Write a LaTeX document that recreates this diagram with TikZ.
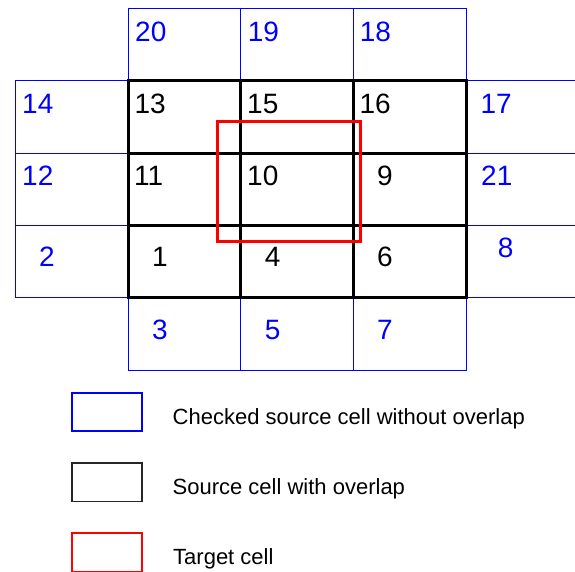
\documentclass[tikz,border=0pt]{standalone}
\usepackage{fontspec}
\setmainfont{Liberation Sans}
\begin{document}
\begin{tikzpicture}[x=1pt,y=-1pt,
  srccell/.style={draw=blue, line width=1pt},
  ovlcell/.style={draw=black, line width=3pt},
  tgtcell/.style={draw=red, line width=3pt},
  blnum/.style={text=blue, font=\fontsize{28}{30}\selectfont, inner sep=0pt},
  bknum/.style={text=black, font=\fontsize{28}{30}\selectfont, inner sep=0pt},
  legtext/.style={font=\fontsize{22}{24}\selectfont, inner sep=0pt, anchor=base west},
]
\useasboundingbox (0,0) rectangle (575,571);
\clip (0,0) rectangle (575,571);
% blue (checked, no overlap) cells
\draw[srccell] (128,8.5) rectangle (240.7,80.7);
\draw[srccell] (240.7,8.5) rectangle (353.3,80.7);
\draw[srccell] (353.3,8.5) rectangle (466,80.7);
\draw[srccell] (15,80.7) rectangle (128,153.3);
\draw[srccell] (15,153.3) rectangle (128,225.8);
\draw[srccell] (15,225.8) rectangle (128,297.5);
\draw[srccell] (466,80.7) rectangle (578.7,153.3);
\draw[srccell] (466,153.3) rectangle (578.7,225.8);
\draw[srccell] (466,225.8) rectangle (578.7,297.5);
\draw[srccell] (128,297.5) rectangle (240.7,370.5);
\draw[srccell] (240.7,297.5) rectangle (353.3,370.5);
\draw[srccell] (353.3,297.5) rectangle (466,370.5);
% black (overlap) cells
\foreach \xa/\xb in {128/240.7, 240.7/353.3, 353.3/466}{
  \foreach \ya/\yb in {80.7/153.3, 153.3/225.8, 225.8/297.5}{
    \draw[ovlcell] (\xa,\ya) rectangle (\xb,\yb);
  }
}
% target cell
\draw[tgtcell] (217.3,121.7) rectangle (360.7,241);
% labels
\node[blnum, anchor=west] (n20) at (135,31.7) {20};
\node[blnum, anchor=west] (n19) at (247.7,31.7) {19};
\node[blnum, anchor=west] (n18) at (359.7,31.7) {18};
\node[blnum, anchor=west] (n14) at (22,103.8) {14};
\node[bknum, anchor=west] (n13) at (134.3,103.8) {13};
\node[bknum, anchor=west] (n15) at (247,103.8) {15};
\node[bknum, anchor=west] (n16) at (359.3,103.8) {16};
\node[blnum, anchor=west] (n17) at (480.3,103.8) {17};
\node[blnum, anchor=west] (n12) at (22,176) {12};
\node[bknum, anchor=west] (n11) at (134,176) {11};
\node[bknum, anchor=west] (n10) at (247,176) {10};
\node[bknum] (n9) at (385,176) {9};
\node[blnum, anchor=west] (n21) at (481,176) {21};
\node[blnum] (n2) at (47,256.7) {2};
\node[bknum] (n1) at (160,256.7) {1};
\node[bknum] (n4) at (272.7,256.7) {4};
\node[bknum] (n6) at (385,256.7) {6};
\node[blnum] (n8) at (505.7,248) {8};
\node[blnum] (n3) at (160,329.7) {3};
\node[blnum] (n5) at (272.7,329.7) {5};
\node[blnum] (n7) at (385,329.7) {7};
% legend
\draw[draw=blue, line width=1.5pt] (72,393) rectangle (142,431);
\draw[draw=black!85, line width=1.5pt] (72,463) rectangle (142,501.5);
\draw[draw=red, line width=1.5pt] (72,533) rectangle (142,572);
\node[legtext] (l1) at (172.5,424.6) {Checked source cell without overlap};
\node[legtext] (l2) at (172.5,494) {Source cell with overlap};
\node[legtext] (l3) at (173,564) {Target cell};
\end{tikzpicture}
\end{document}
